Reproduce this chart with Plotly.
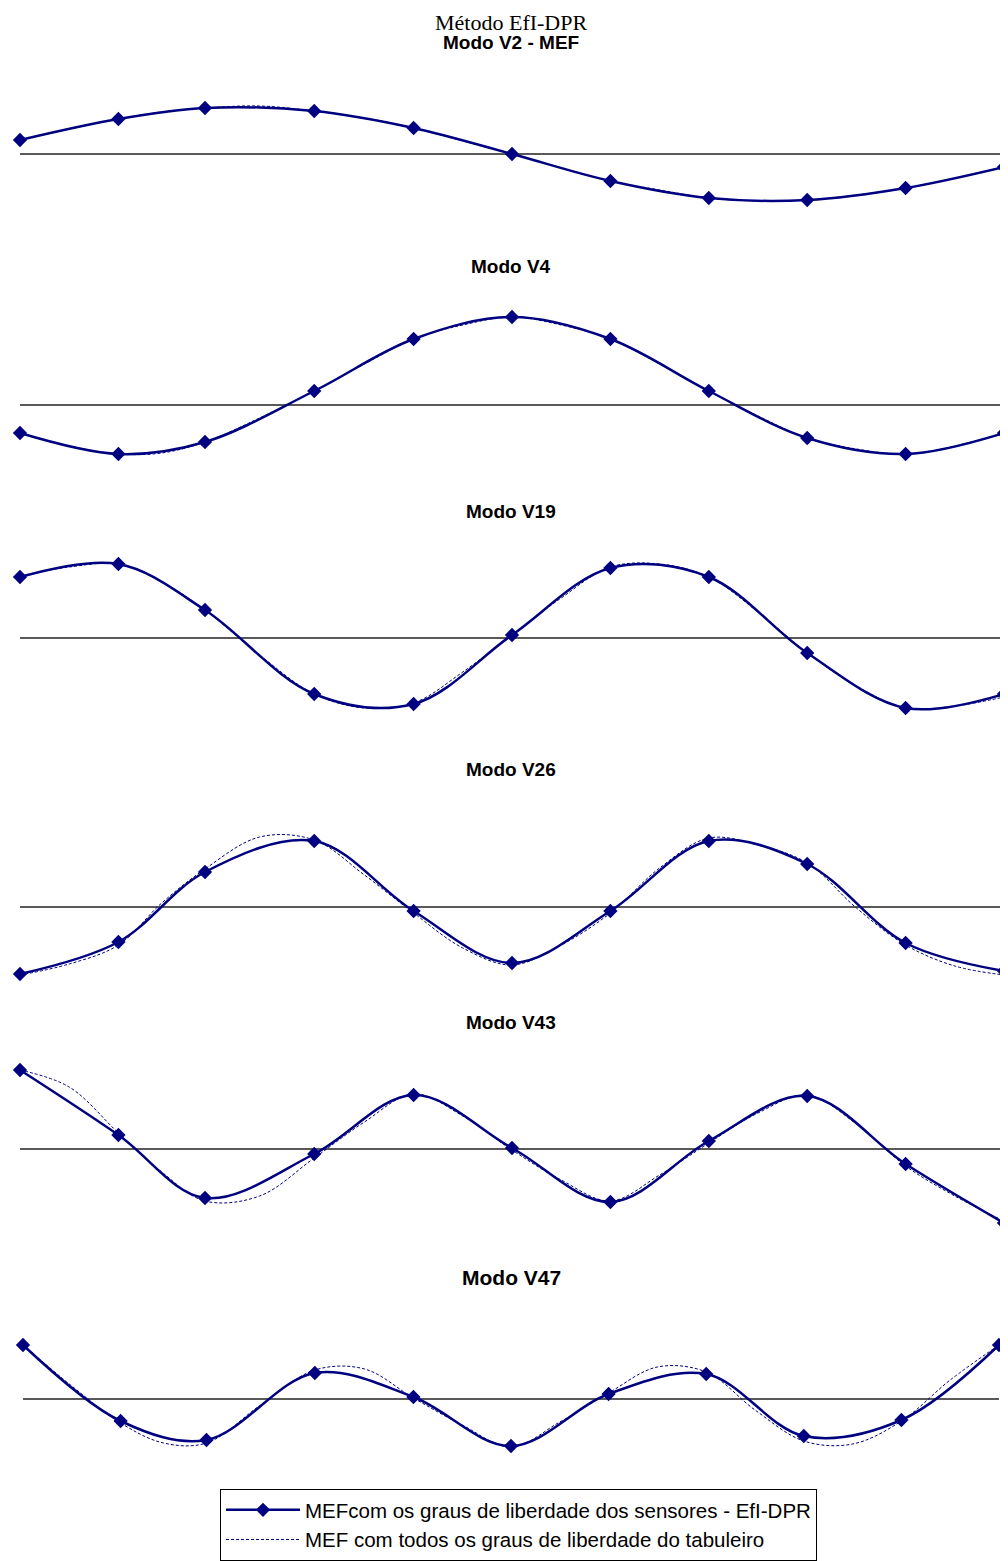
import plotly.graph_objects as go

# Sensor positions along the deck (% of length)
xs = [0, 10, 18.8, 29.9, 40, 50, 60, 70, 80, 90, 100]
# Full FE model node positions (sensors + intermediate nodes)
xs_full = [0, 5, 10, 14.4, 18.8, 24.35, 29.9, 35, 40, 45, 50, 55, 60, 65, 70, 75, 80, 85, 90, 95, 100]

mode_names = ["Modo V2 - MEF", "Modo V4", "Modo V19", "Modo V26", "Modo V43", "Modo V47"]

# Mode shapes with sensor DOFs (EfI-DPR)
v2_sens = [0.14, 0.35, 0.46, 0.43, 0.26, 0.00, -0.27, -0.44, -0.46, -0.34, -0.13]
v4_sens = [-0.28, -0.49, -0.37, 0.14, 0.66, 0.88, 0.66, 0.14, -0.33, -0.49, -0.28]
v19_sens = [0.61, 0.74, 0.28, -0.56, -0.66, 0.03, 0.70, 0.61, -0.15, -0.70, -0.56]
v26_sens = [-0.67, -0.35, 0.35, 0.66, -0.04, -0.56, -0.04, 0.66, 0.43, -0.36, -0.64]
v43_sens = [0.79, 0.14, -0.49, -0.05, 0.54, 0.01, -0.53, 0.08, 0.53, -0.15, -0.74]
v47_sens = [0.54, -0.22, -0.41, 0.26, 0.02, -0.47, 0.05, 0.25, -0.37, -0.21, 0.54]

# Mode shapes with all deck DOFs (full FE model)
v2_full = [0.14, 0.25, 0.35, 0.42, 0.46, 0.48, 0.43, 0.36, 0.26, 0.13, 0.00, -0.14, -0.27, -0.36, -0.44, -0.47, -0.46, -0.41, -0.34, -0.24, -0.13]
v4_full = [-0.28, -0.41, -0.49, -0.48, -0.37, -0.13, 0.14, 0.41, 0.66, 0.80, 0.88, 0.80, 0.66, 0.41, 0.14, -0.11, -0.33, -0.44, -0.49, -0.41, -0.28]
v19_full = [0.62, 0.71, 0.74, 0.56, 0.28, -0.17, -0.56, -0.70, -0.65, -0.34, 0.03, 0.40, 0.71, 0.74, 0.61, 0.26, -0.15, -0.48, -0.70, -0.68, -0.59]
v26_full = [-0.68, -0.57, -0.38, 0.04, 0.38, 0.70, 0.67, 0.32, -0.06, -0.41, -0.58, -0.38, -0.06, 0.39, 0.69, 0.62, 0.44, -0.01, -0.38, -0.59, -0.68]
v43_full = [0.79, 0.62, 0.16, -0.23, -0.52, -0.47, -0.09, 0.27, 0.55, 0.33, -0.01, -0.31, -0.52, -0.26, 0.06, 0.36, 0.54, 0.25, -0.17, -0.47, -0.72]
v47_full = [0.54, 0.13, -0.24, -0.44, -0.44, -0.06, 0.29, 0.30, 0.01, -0.26, -0.48, -0.23, 0.06, 0.32, 0.27, -0.11, -0.42, -0.45, -0.22, 0.19, 0.54]

sens_list = [v2_sens, v4_sens, v19_sens, v26_sens, v43_sens, v47_sens]
full_list = [v2_full, v4_full, v19_full, v26_full, v43_full, v47_full]

legend_sens = "MEFcom os graus de liberdade dos sensores - EfI-DPR"
legend_full = "MEF com todos os graus de liberdade do tabuleiro"

# ---- layout geometry (page pixels; page body has an 8px margin) ----
OFF = 8
W, H = 1008 - OFF, 1561 - OFF
zero_px = [154, 405, 638, 907, 1149, 1399]
title_px = [43, 266, 511, 769, 1022, 1277]
title_size = [19, 19, 19, 19, 19, 21]
half = 115  # px half-height of each panel
unit_px = 100.0  # px per unit
x_left_px = [20, 20, 20, 20, 20, 23]
x_right_px = [1004, 1004, 1004, 1004, 1004, 999]


def px_x(p):
    return (p - OFF) / W


def px_y(p):
    return 1 - (p - OFF) / H


NAVY = "#000080"
fig = go.Figure()
layout = {}
for i in range(6):
    ax = "" if i == 0 else str(i + 1)
    xref, yref = "x" + ax, "y" + ax
    # zero line
    fig.add_trace(go.Scatter(x=[xs[0], xs[-1]], y=[0, 0], mode="lines",
                             line=dict(color="#222222", width=1.5),
                             xaxis=xref, yaxis=yref, showlegend=False, hoverinfo="skip"))
    fig.add_trace(go.Scatter(x=xs_full, y=full_list[i], mode="lines", name=legend_full,
                             line=dict(color=NAVY, width=1, dash="3px,2px", shape="spline"),
                             xaxis=xref, yaxis=yref, showlegend=(i == 0), legendgroup="b",
                             legendrank=2, cliponaxis=False))
    fig.add_trace(go.Scatter(x=xs, y=sens_list[i], mode="lines+markers", name=legend_sens,
                             line=dict(color=NAVY, width=2.5, shape="spline"),
                             marker=dict(symbol="diamond", size=11, color=NAVY),
                             xaxis=xref, yaxis=yref, showlegend=(i == 0), legendgroup="a",
                             legendrank=1, cliponaxis=False))
    scale = (x_right_px[i] - x_left_px[i]) / (xs[-1] - xs[0])
    left = x_left_px[i] - OFF
    xr = [xs[0] - left / scale, xs[0] + (W - left) / scale]
    z = zero_px[i] - OFF
    dom = [(H - z - half) / H, (H - z + half) / H]
    yr = [-half / unit_px, half / unit_px]
    layout["xaxis" + ax] = dict(range=xr, visible=False, domain=[0, 1], anchor=yref, fixedrange=True)
    layout["yaxis" + ax] = dict(range=yr, visible=False, domain=dom, anchor=xref, fixedrange=True)

annotations = [dict(text="Método EfI-DPR", x=px_x(511), y=1.0, xref="paper", yref="paper",
                    showarrow=False, xanchor="center", yanchor="top",
                    font=dict(family="Liberation Serif, Times New Roman, serif", size=22, color="black"))]
for i in range(6):
    annotations.append(dict(text="<b>%s</b>" % mode_names[i], x=px_x(511), y=px_y(title_px[i]),
                            xref="paper", yref="paper", showarrow=False,
                            xanchor="center", yanchor="middle",
                            font=dict(family="Liberation Sans, Arial, sans-serif",
                                      size=title_size[i], color="black")))

fig.update_layout(
    width=W, height=H,
    margin=dict(l=0, r=0, t=0, b=0),
    paper_bgcolor="white", plot_bgcolor="white",
    showlegend=True,
    legend=dict(x=px_x(220), xanchor="left", y=0, yanchor="bottom",
                bordercolor="black", borderwidth=1, bgcolor="white",
                font=dict(family="Liberation Sans, Arial, sans-serif", size=20.5, color="black"),
                tracegroupgap=0, itemwidth=74, traceorder="grouped"),
    annotations=annotations,
    **layout,
)

fig.write_html("out.html")
